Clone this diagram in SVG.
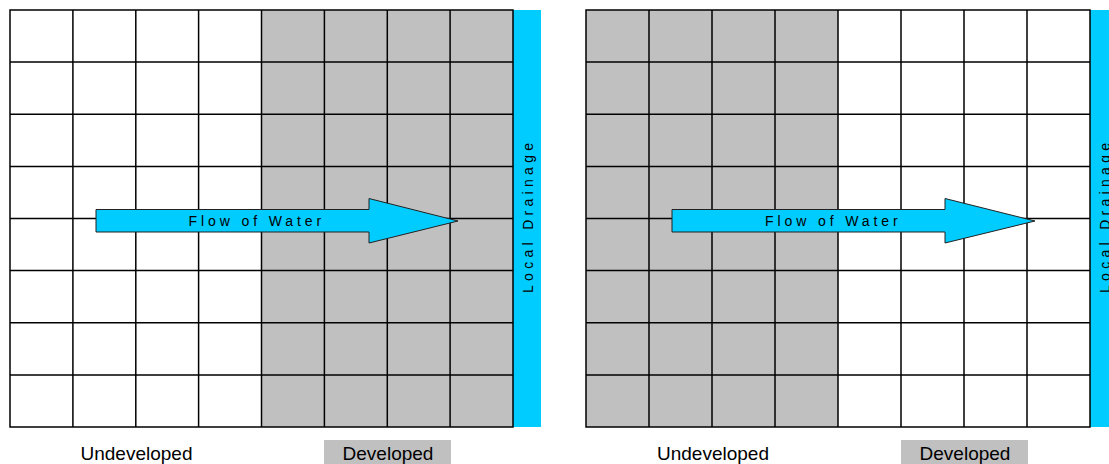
<svg xmlns="http://www.w3.org/2000/svg" width="1109" height="464" viewBox="0 0 1109 464">
<style>
.bg{fill:#ffffff}
.dev{fill:#c0c0c0}
.grid{stroke:#000;stroke-width:1.5;fill:none}
.bar{fill:#00ccff}
.arrow{fill:#00ccff;stroke:#222;stroke-width:1}
.flow{font-family:"Liberation Sans",Arial,sans-serif;font-size:14px;letter-spacing:3.9px;fill:#000}
.drain{font-family:"Liberation Sans",Arial,sans-serif;font-size:14px;letter-spacing:4.3px;fill:#000}
.lbl{font-family:"Liberation Sans",Arial,sans-serif;font-size:19px;fill:#000;text-anchor:middle}
</style>
<rect width="1109" height="464" fill="#fff"/>

<g id="left-panel">
  <rect class="dev" x="262" y="10" width="251" height="417"/>
  <rect class="bar" x="513" y="10" width="28" height="417"/>
  <g class="grid">
    <rect x="10" y="10" width="503" height="417"/>
    <path d="M72.9 10V427M135.8 10V427M198.6 10V427M261.5 10V427M324.4 10V427M387.3 10V427M450.1 10V427M10 62.1H513M10 114.3H513M10 166.4H513M10 218.5H513M10 270.6H513M10 322.8H513M10 374.9H513"/>
  </g>
  <text class="drain" transform="translate(533,293) rotate(-90)">Local Drainage</text>
  <text class="lbl" x="136.5" y="460">Undeveloped</text>
  <rect class="dev" x="324" y="440" width="127" height="24"/>
  <text class="lbl" x="388" y="460">Developed</text>
</g>

<g id="right-panel">
  <rect class="dev" x="586" y="10" width="252" height="417"/>
  <rect class="bar" x="1090" y="10" width="28" height="417"/>
  <g class="grid">
    <rect x="586" y="10" width="504" height="417"/>
    <path d="M649 10V427M712 10V427M775 10V427M838 10V427M901 10V427M964 10V427M1027 10V427M586 62.1H1090M586 114.3H1090M586 166.4H1090M586 218.5H1090M586 270.6H1090M586 322.8H1090M586 374.9H1090"/>
  </g>
  <text class="drain" transform="translate(1110,293) rotate(-90)">Local Drainage</text>
  <text class="lbl" x="713" y="460">Undeveloped</text>
  <rect class="dev" x="901" y="440" width="127" height="24"/>
  <text class="lbl" x="965" y="460">Developed</text>
</g>

<g id="connectors">
  <g id="flow-left">
    <polygon class="arrow" points="96,209.5 369,209.5 369,198.5 458,221 369,243 369,232 96,232"/>
    <text class="flow" x="188.5" y="225.5">Flow of Water</text>
  </g>
  <g id="flow-right">
    <polygon class="arrow" points="672,209.5 945,209.5 945,198.5 1035,221 945,243 945,232 672,232"/>
    <text class="flow" x="765" y="225.5">Flow of Water</text>
  </g>
</g>
</svg>
